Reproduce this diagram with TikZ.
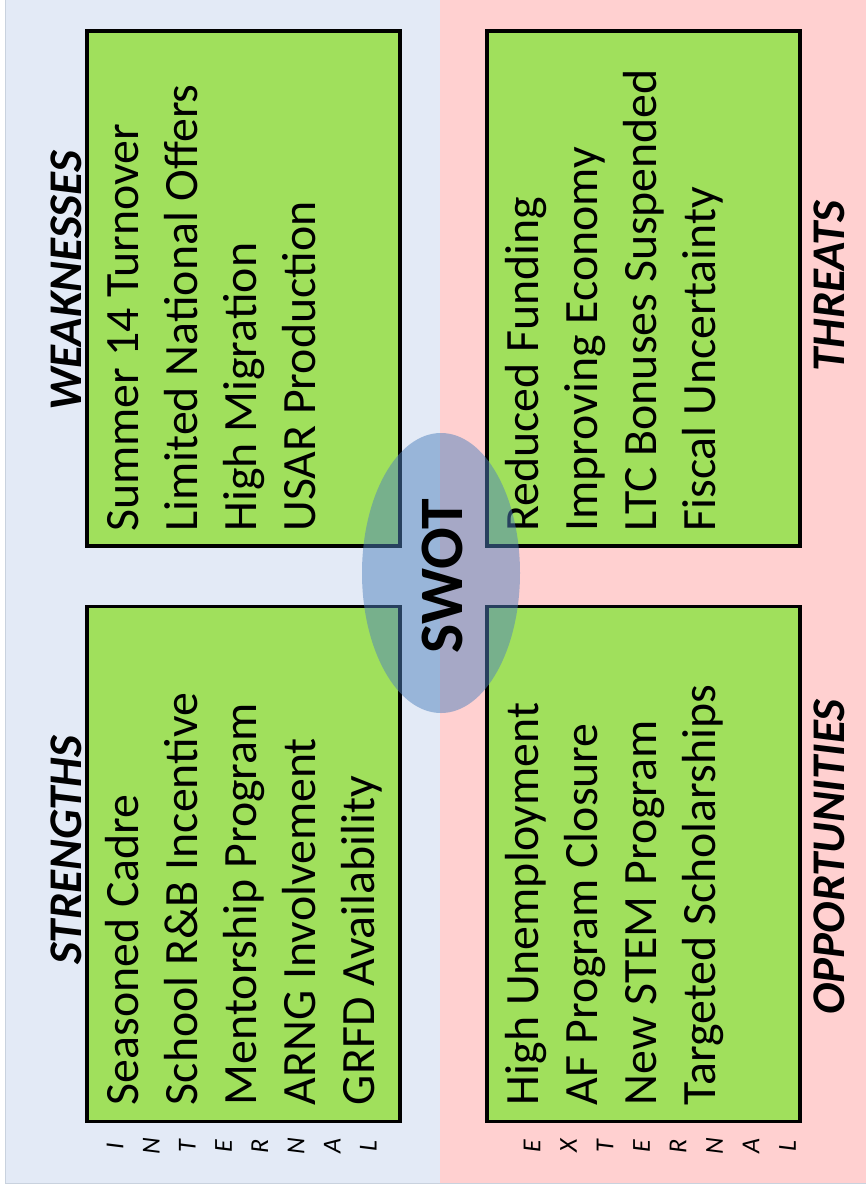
\documentclass[tikz,border=0pt]{standalone}
\usepackage{fontspec}
\setmainfont{Carlito}
\usepackage{tikz}
\usetikzlibrary{calc,positioning,shapes.geometric}
\definecolor{inbg}{HTML}{E3EAF6}
\definecolor{exbg}{HTML}{FFD0D0}
\definecolor{leaf}{HTML}{A0E05C}
\definecolor{oval}{HTML}{4F81BD}
\definecolor{rim}{HTML}{C9D2DE}
\tikzset{box/.style={draw=black,fill=leaf,line width=3.5bp,minimum width=313bp,minimum height=515bp,inner sep=0pt},items/.style={rotate=90,anchor=north west,align=left,inner sep=0pt,font=\fontsize{48}{59.3}\selectfont},title/.style={rotate=90,inner sep=0pt,font=\fontsize{47}{55}\selectfont\bfseries\itshape},letter/.style={rotate=90,inner sep=0pt,font=\fontsize{26}{30}\selectfont\itshape}}

\begin{document}
\begin{tikzpicture}[x=1bp,y=-1bp]
\useasboundingbox (0,0) rectangle (866,1187);
\fill[inbg] (5,0) rectangle (440,1183);\fill[exbg] (440,0) rectangle (866,1183);\draw[rim,line width=1bp] (5,0)--(5,1183)--(866,1183);
\node[box] (wk) at (243.5,288.5) {};\node[box] (th) at (643.5,288.5) {};\node[box] (st) at (243.5,864) {};\node[box] (op) at (643.5,864) {};
\node[items] (wklist) at ($(wk.south west)+(22,-16)$) {Summer 14 Turnover\\Limited National Offers\\High Migration\\USAR Production};
\node[items] (thlist) at ($(th.south west)+(20,-16)$) {Reduced Funding\\Improving Economy\\LTC Bonuses Suspended\\Fiscal Uncertainty};
\node[items] (stlist) at ($(st.south west)+(20,-18)$) {Seasoned Cadre\\School R\&B Incentive\\Mentorship Program\\ARNG Involvement\\GRFD Availability};
\node[items] (oplist) at ($(op.south west)+(20,-18)$) {High Unemployment\\AF Program Closure\\New STEM Program\\Targeted Scholarships};
\node[title] (wkhead) at (66,281) {WEAKNESSES};\node[title] (thhead) at (829,286) {THREATS};\node[title] (sthead) at (66,850) {STRENGTHS};\node[title] (ophead) at (829,857) {OPPORTUNITIES};
\foreach \ch [count=\i from 0] in {I,N,T,E,R,N,A,L}{\node[letter] (int\i) at (115+36.2*\i,1146) {\ch};}
\foreach \ch [count=\i from 0] in {E,X,T,E,R,N,A,L}{\node[letter] (ext\i) at (532+36.5*\i,1146) {\ch};}
\node[ellipse,fill=oval,fill opacity=.5,minimum width=158bp,minimum height=280bp,inner sep=0pt] (hub) at (441,573) {};
\node[rotate=90,font=\fontsize{62}{70}\selectfont\bfseries] (swot) at (442,576) {SWOT};
\end{tikzpicture}
\end{document}
